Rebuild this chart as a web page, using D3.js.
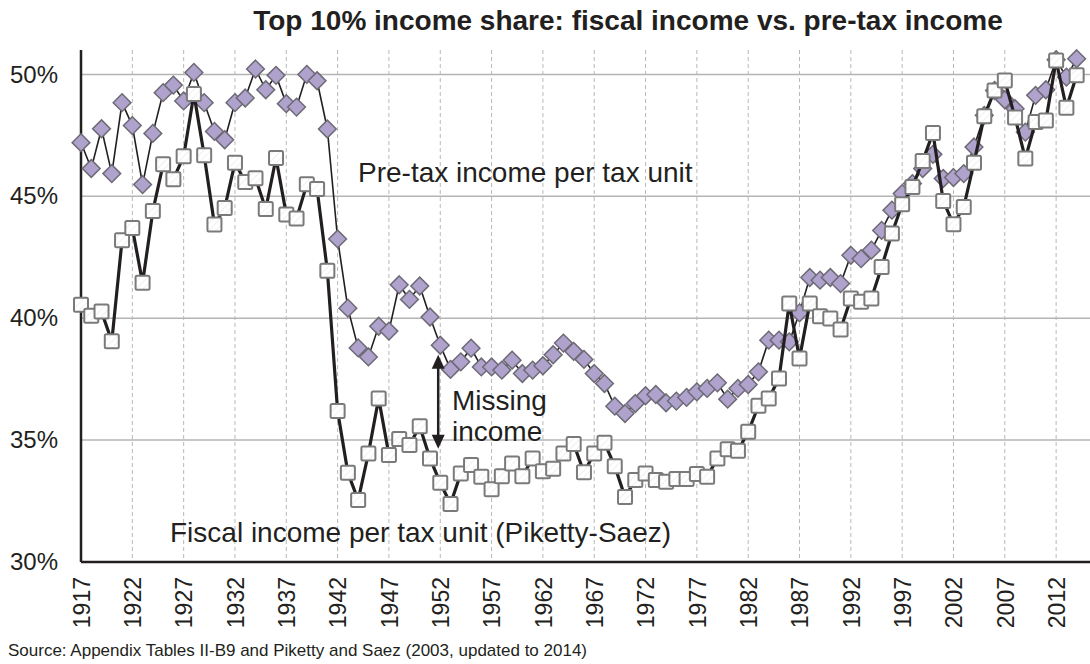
<!DOCTYPE html>
<html>
<head>
<meta charset="utf-8">
<script src="https://cdn.jsdelivr.net/npm/d3@7"></script>
<style>
  body { margin: 0; background: #fff; }
  svg { display: block; font-family: "Liberation Sans", Arial, sans-serif; }
</style>
</head>
<body>
<svg id="chart" width="1090" height="664"></svg>
<script>
// years 1917..2014
const years = d3.range(1917, 2015)

// top 10% share of pre-tax income per tax unit (%)
const pretax = [
  47.2, 46.14, 47.77, 45.93, 48.84, 47.9, 45.48, 47.58, 49.25, 49.56,
  48.91, 50.08, 48.84, 47.66, 47.32, 48.84, 49.03, 50.22, 49.37, 49.96,
  48.8, 48.66, 50.0, 49.74, 47.76, 43.25, 40.41, 38.78, 38.41, 39.67,
  39.47, 41.37, 40.77, 41.32, 40.05, 38.89, 37.9, 38.21, 38.77, 38.0,
  38.0, 37.87, 38.28, 37.73, 37.87, 38.05, 38.5, 38.98, 38.64, 38.31,
  37.73, 37.32, 36.39, 36.09, 36.5, 36.82, 36.87, 36.53, 36.6, 36.75,
  36.98, 37.12, 37.35, 36.68, 37.12, 37.28, 37.8, 39.1, 39.1, 39.03,
  40.22, 41.67, 41.56, 41.67, 41.42, 42.58, 42.44, 42.79, 43.6, 44.43,
  45.11, 45.52, 46.14, 46.72, 45.73, 45.77, 45.93, 47.02, 48.32, 49.34,
  48.96, 48.59, 47.63, 49.14, 49.37, 50.6, 49.89, 50.64
]

// top 10% share of fiscal income per tax unit, Piketty-Saez (%)
const fiscal = [
  40.55, 40.1, 40.27, 39.05, 43.2, 43.7, 41.45, 44.4, 46.31, 45.7,
  46.64, 49.2, 46.68, 43.84, 44.52, 46.38, 45.59, 45.74, 44.48, 46.57,
  44.25, 44.09, 45.49, 45.3, 41.95, 36.19, 33.66, 32.54, 34.45, 36.71,
  34.39, 35.04, 34.8, 35.57, 34.25, 33.25, 32.38, 33.63, 33.98, 33.5,
  32.98, 33.52, 34.04, 33.52, 34.25, 33.72, 33.82, 34.45, 34.84, 33.68,
  34.45, 34.89, 33.93, 32.67, 33.36, 33.63, 33.36, 33.29, 33.4, 33.4,
  33.61, 33.5, 34.25, 34.62, 34.56, 35.34, 36.41, 36.71, 37.53, 40.6,
  38.35, 40.6, 40.08, 39.99, 39.54, 40.81, 40.67, 40.81, 42.1, 43.47,
  44.67, 45.38, 46.45, 47.6, 44.81, 43.85, 44.56, 46.38, 48.28, 49.34,
  49.75, 48.23, 46.55, 48.05, 48.11, 50.57, 48.63, 49.96
]

const yTicks = [30, 35, 40, 45, 50]
const xTicks = d3.range(1917, 2015, 5)

const title = "Top 10% income share: fiscal income vs. pre-tax income"
const sourceNote = "Source: Appendix Tables II-B9 and Piketty and Saez (2003, updated to 2014)"

const svg = d3.select('#chart')
const plotLeft = 81, plotRight = 1090, plotTop = 50, plotBottom = 562
const ink = '#231f20'
const fontStack = '"Liberation Sans", Arial, sans-serif'

const x = d3.scaleLinear().domain([1917, 2015.3]).range([plotLeft, plotRight])
const y = d3.scaleLinear().domain([30, 51]).range([plotBottom, plotTop])

// pattern for the faint hatch inside the square markers
const defs = svg.append('defs')
defs.append('pattern')
    .attr('id', 'hatch')
    .attr('patternUnits', 'userSpaceOnUse')
    .attr('width', 5).attr('height', 5)
    .attr('patternTransform', 'rotate(45)')
  .call(p => {
    p.append('rect').attr('width', 5).attr('height', 5).attr('fill', '#fff')
    p.append('line').attr('x1', 0).attr('y1', 0).attr('x2', 0).attr('y2', 5)
      .attr('stroke', '#e2e2e2').attr('stroke-width', 1)
  })

// horizontal gridlines
svg.append('g')
  .selectAll('line')
  .data(yTicks.filter(d => d > 30))
  .join('line')
    .attr('x1', plotLeft).attr('x2', plotRight)
    .attr('y1', d => y(d)).attr('y2', d => y(d))
    .attr('stroke', '#b4b4b4').attr('stroke-width', 1.5)

// vertical dashed gridlines
svg.append('g')
  .selectAll('line')
  .data(xTicks.filter(d => d > 1917))
  .join('line')
    .attr('x1', d => x(d)).attr('x2', d => x(d))
    .attr('y1', plotTop).attr('y2', plotBottom)
    .attr('stroke', '#b8b8b8').attr('stroke-width', 1)
    .attr('stroke-dasharray', '4,3')

// y axis labels
const yAxis = d3.axisLeft(y).tickValues(yTicks).tickFormat(d => d + '%').tickSize(0).tickPadding(23)
svg.append('g')
    .attr('transform', `translate(${plotLeft},0)`)
    .call(yAxis)
    .call(g => g.select('.domain').remove())
    .call(g => g.selectAll('text')
      .attr('font-size', 24)
      .attr('fill', ink)
      .attr('font-family', fontStack))

// x axis labels, rotated
const xAxis = d3.axisBottom(x).tickValues(xTicks).tickFormat(d3.format('d')).tickSize(0)
svg.append('g')
    .attr('transform', `translate(0,${plotBottom})`)
    .call(xAxis)
    .call(g => g.select('.domain').remove())
    .call(g => g.selectAll('text')
      .attr('font-size', 23)
      .attr('fill', ink)
      .attr('font-family', fontStack)
      .attr('text-anchor', 'end')
      .attr('transform', 'rotate(-90)')
      .attr('x', -15).attr('y', 0).attr('dy', '0.36em'))

// axis lines
svg.append('line')
    .attr('x1', plotLeft).attr('x2', plotLeft).attr('y1', plotTop).attr('y2', plotBottom)
    .attr('stroke', ink).attr('stroke-width', 2.5)
svg.append('line')
    .attr('x1', plotLeft).attr('x2', plotRight).attr('y1', plotBottom).attr('y2', plotBottom)
    .attr('stroke', ink).attr('stroke-width', 2.5)

// pre-tax series: thin line + lavender diamonds
const line = d3.line().x(d => x(d[0])).y(d => y(d[1]))
const pretaxPts = years.map((yr, i) => [yr, pretax[i]])
const fiscalPts = years.map((yr, i) => [yr, fiscal[i]])

svg.append('path')
    .datum(pretaxPts)
    .attr('d', line)
    .attr('fill', 'none')
    .attr('stroke', ink).attr('stroke-width', 1.6)

const diamond = d3.symbol().type(d3.symbolDiamond2).size(200)
svg.append('g')
  .selectAll('path')
  .data(pretaxPts)
  .join('path')
    .attr('d', diamond)
    .attr('transform', d => `translate(${x(d[0])},${y(d[1])})`)
    .attr('fill', '#afa2cc')
    .attr('stroke', '#6e6a75').attr('stroke-width', 1.5)

// fiscal series: thick line + white squares
svg.append('path')
    .datum(fiscalPts)
    .attr('d', line)
    .attr('fill', 'none')
    .attr('stroke', ink).attr('stroke-width', 3.2)

const sq = 14
svg.append('g')
  .selectAll('rect')
  .data(fiscalPts)
  .join('rect')
    .attr('x', d => x(d[0]) - sq / 2)
    .attr('y', d => y(d[1]) - sq / 2)
    .attr('width', sq).attr('height', sq)
    .attr('rx', 1.5)
    .attr('fill', 'url(#hatch)')
    .attr('stroke', '#7a7a7a').attr('stroke-width', 2)

// "Missing income" arrow
const arrowYear = 1951.8
const arrowFrom = 38.5, arrowTo = 34.65
const ax = x(arrowYear)
svg.append('line')
    .attr('x1', ax).attr('x2', ax)
    .attr('y1', y(arrowFrom) + 12).attr('y2', y(arrowTo) - 12)
    .attr('stroke', ink).attr('stroke-width', 2.5)
svg.append('path')
    .attr('d', `M${ax},${y(arrowFrom)} L${ax - 6.5},${y(arrowFrom) + 14} L${ax + 6.5},${y(arrowFrom) + 14} Z`)
    .attr('fill', ink)
svg.append('path')
    .attr('d', `M${ax},${y(arrowTo)} L${ax - 6.5},${y(arrowTo) - 14} L${ax + 6.5},${y(arrowTo) - 14} Z`)
    .attr('fill', ink)

// text labels
const labelFont = 28
svg.append('text')
    .attr('x', 358).attr('y', 182)
    .attr('font-size', labelFont).attr('fill', ink)
    .text('Pre-tax income per tax unit')
svg.append('text')
    .attr('x', 170).attr('y', 542)
    .attr('font-size', labelFont).attr('fill', ink)
    .text('Fiscal income per tax unit (Piketty-Saez)')
svg.append('text')
    .attr('x', 452).attr('y', 410)
    .attr('font-size', labelFont).attr('fill', ink)
    .text('Missing')
svg.append('text')
    .attr('x', 452).attr('y', 441)
    .attr('font-size', labelFont).attr('fill', ink)
    .text('income')

// title and source
svg.append('text')
    .attr('x', 628).attr('y', 30)
    .attr('text-anchor', 'middle')
    .attr('font-size', 28).attr('font-weight', 'bold').attr('fill', ink)
    .text(title)
svg.append('text')
    .attr('x', 8).attr('y', 656)
    .attr('font-size', 17).attr('fill', ink)
    .text(sourceNote)
</script>
</body>
</html>
